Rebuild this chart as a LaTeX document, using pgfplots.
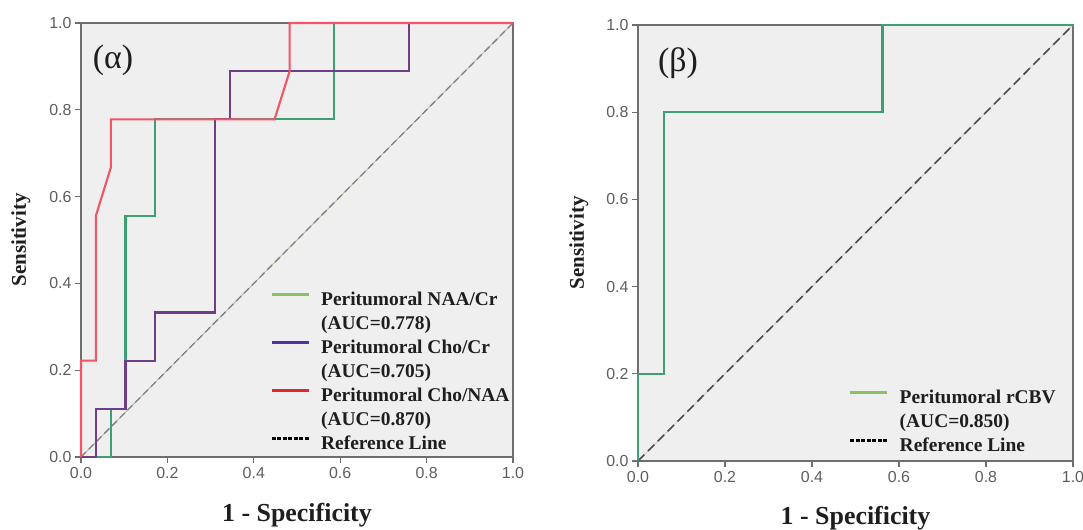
\documentclass[border=0pt]{standalone}
\usepackage{fontspec}
\setmainfont{Liberation Serif}
\newfontfamily\tickfont{Liberation Sans}
\usepackage{pgfplots}
\pgfplotsset{compat=1.18}
\definecolor{rocgreen}{HTML}{3E9E74}
\definecolor{leggreen}{HTML}{8CC060}
\definecolor{rocpurple}{HTML}{6E3F86}
\definecolor{legpurple}{HTML}{5530A0}
\definecolor{rocred}{HTML}{F25566}
\definecolor{legred}{HTML}{E02828}
\definecolor{axisgray}{HTML}{6E6E6E}
\definecolor{bggray}{HTML}{EFEFEF}
\definecolor{tickgray}{HTML}{5E5E5E}
\definecolor{textdark}{HTML}{1E1E1E}
\definecolor{diagolive}{HTML}{B4B894}
\pgfplotsset{
  rocaxis/.style={
    scale only axis, clip=false,
    xmin=0, xmax=1, ymin=0, ymax=1,
    xtick={0,0.2,0.4,0.6,0.8,1}, ytick={0,0.2,0.4,0.6,0.8,1},
    tick pos=left, tick align=outside, major tick length=6bp,
    tick style={draw=axisgray, line width=1.3bp},
    axis line style={draw=axisgray, line width=1.4bp},
    axis background/.style={fill=bggray},
    ticklabel style={font=\tickfont\fontsize{16}{16}\selectfont, text=tickgray,
      /pgf/number format/fixed, /pgf/number format/fixed zerofill,
      /pgf/number format/precision=1, /pgf/number format/assume math mode=true},
    xticklabel style={yshift=-1bp},
    xlabel style={font=\bfseries\fontsize{26}{26}\selectfont, text=textdark,
      at={(axis description cs:0.5,0)}, anchor=center},
    ylabel style={font=\bfseries\fontsize{21}{21}\selectfont, text=textdark, anchor=center},
    legend image code/.code={\draw[##1] (0bp,6.5bp) -- (37bp,6.5bp);},
    legend cell align=left,
    legend style={draw=none, fill=none, inner sep=0pt, anchor=north west,
      font=\bfseries\fontsize{19.5}{19.5}\selectfont, text=textdark,
      row sep=3.5bp, column sep=11bp,
      nodes={inner xsep=0pt, inner ysep=1bp, text height=14bp, text depth=4.5bp}},
  }
}
\begin{document}
\begin{tikzpicture}
\path[use as bounding box] (0bp,0bp) rectangle (1083bp,-530bp);
% ---------------- left panel
\begin{axis}[rocaxis,
  at={(81bp,-457bp)}, anchor=south west, width=432bp, height=434bp,
  xlabel={1 - Specificity}, ylabel={Sensitivity},
  xlabel style={yshift=-58bp},
  ylabel style={at={(axis description cs:-0.139,0.5)}},
  legend style={at={(axis description cs:0.4375,0.384)}},
]
\addplot[forget plot, line width=0.8bp, diagolive] coordinates {(0,0) (1,1)};
\addplot[forget plot, line width=1.3bp, gray, dash pattern=on 7bp off 4bp] coordinates {(0,0) (1,1)};
\addplot[forget plot, line width=2.1bp, rocgreen] coordinates {
 (0,0) (0.069,0) (0.069,0.111) (0.103,0.111) (0.103,0.556) (0.172,0.556)
 (0.172,0.778) (0.586,0.778) (0.586,1) (1,1)};
\addplot[forget plot, line width=2.1bp, rocpurple] coordinates {
 (0,0) (0.0345,0) (0.0345,0.111) (0.103,0.111) (0.103,0.222) (0.172,0.222)
 (0.172,0.333) (0.310,0.333) (0.310,0.778) (0.345,0.778) (0.345,0.889)
 (0.759,0.889) (0.759,1) (1,1)};
\addplot[forget plot, line width=2.1bp, rocred] coordinates {
 (0,0) (0,0.222) (0.0345,0.222) (0.0345,0.556) (0.069,0.667) (0.069,0.778)
 (0.448,0.778) (0.483,0.889) (0.483,1) (1,1)};
\addlegendimage{line width=3bp, leggreen}
\addlegendentry{Peritumoral NAA/Cr}
\addlegendimage{empty legend}
\addlegendentry{(AUC=0.778)}
\addlegendimage{line width=3bp, legpurple}
\addlegendentry{Peritumoral Cho/Cr}
\addlegendimage{empty legend}
\addlegendentry{(AUC=0.705)}
\addlegendimage{line width=3bp, legred}
\addlegendentry{Peritumoral Cho/NAA}
\addlegendimage{empty legend}
\addlegendentry{(AUC=0.870)}
\addlegendimage{line width=2.6bp, black, dash pattern=on 4bp off 1.5bp}
\addlegendentry{Reference Line}
\node[font=\fontsize{34}{34}\selectfont, text=textdark] at (axis description cs:0.074,0.915) {(α)};
\end{axis}
% ---------------- right panel
\begin{axis}[rocaxis,
  at={(638bp,-461bp)}, anchor=south west, width=435bp, height=436bp,
  xlabel={1 - Specificity}, ylabel={Sensitivity},
  xlabel style={yshift=-57bp},
  ylabel style={at={(axis description cs:-0.136,0.5)}},
  legend style={at={(axis description cs:0.484,0.166)}},
]
\addplot[forget plot, line width=0.8bp, gray!40] coordinates {(0,0) (1,1)};
\addplot[forget plot, line width=1.6bp, black!70, dash pattern=on 9bp off 5bp] coordinates {(0,0) (1,1)};
\addplot[forget plot, line width=2.1bp, rocgreen] coordinates {
 (0,0) (0,0.2) (0.059,0.2) (0.059,0.8) (0.562,0.8) (0.562,1) (1,1)};
\addlegendimage{line width=3bp, leggreen}
\addlegendentry{Peritumoral rCBV}
\addlegendimage{empty legend}
\addlegendentry{(AUC=0.850)}
\addlegendimage{line width=2.6bp, black, dash pattern=on 4bp off 1.5bp}
\addlegendentry{Reference Line}
\node[font=\fontsize{34}{34}\selectfont, text=textdark] at (axis description cs:0.092,0.913) {(β)};
\end{axis}
\end{tikzpicture}
\end{document}
